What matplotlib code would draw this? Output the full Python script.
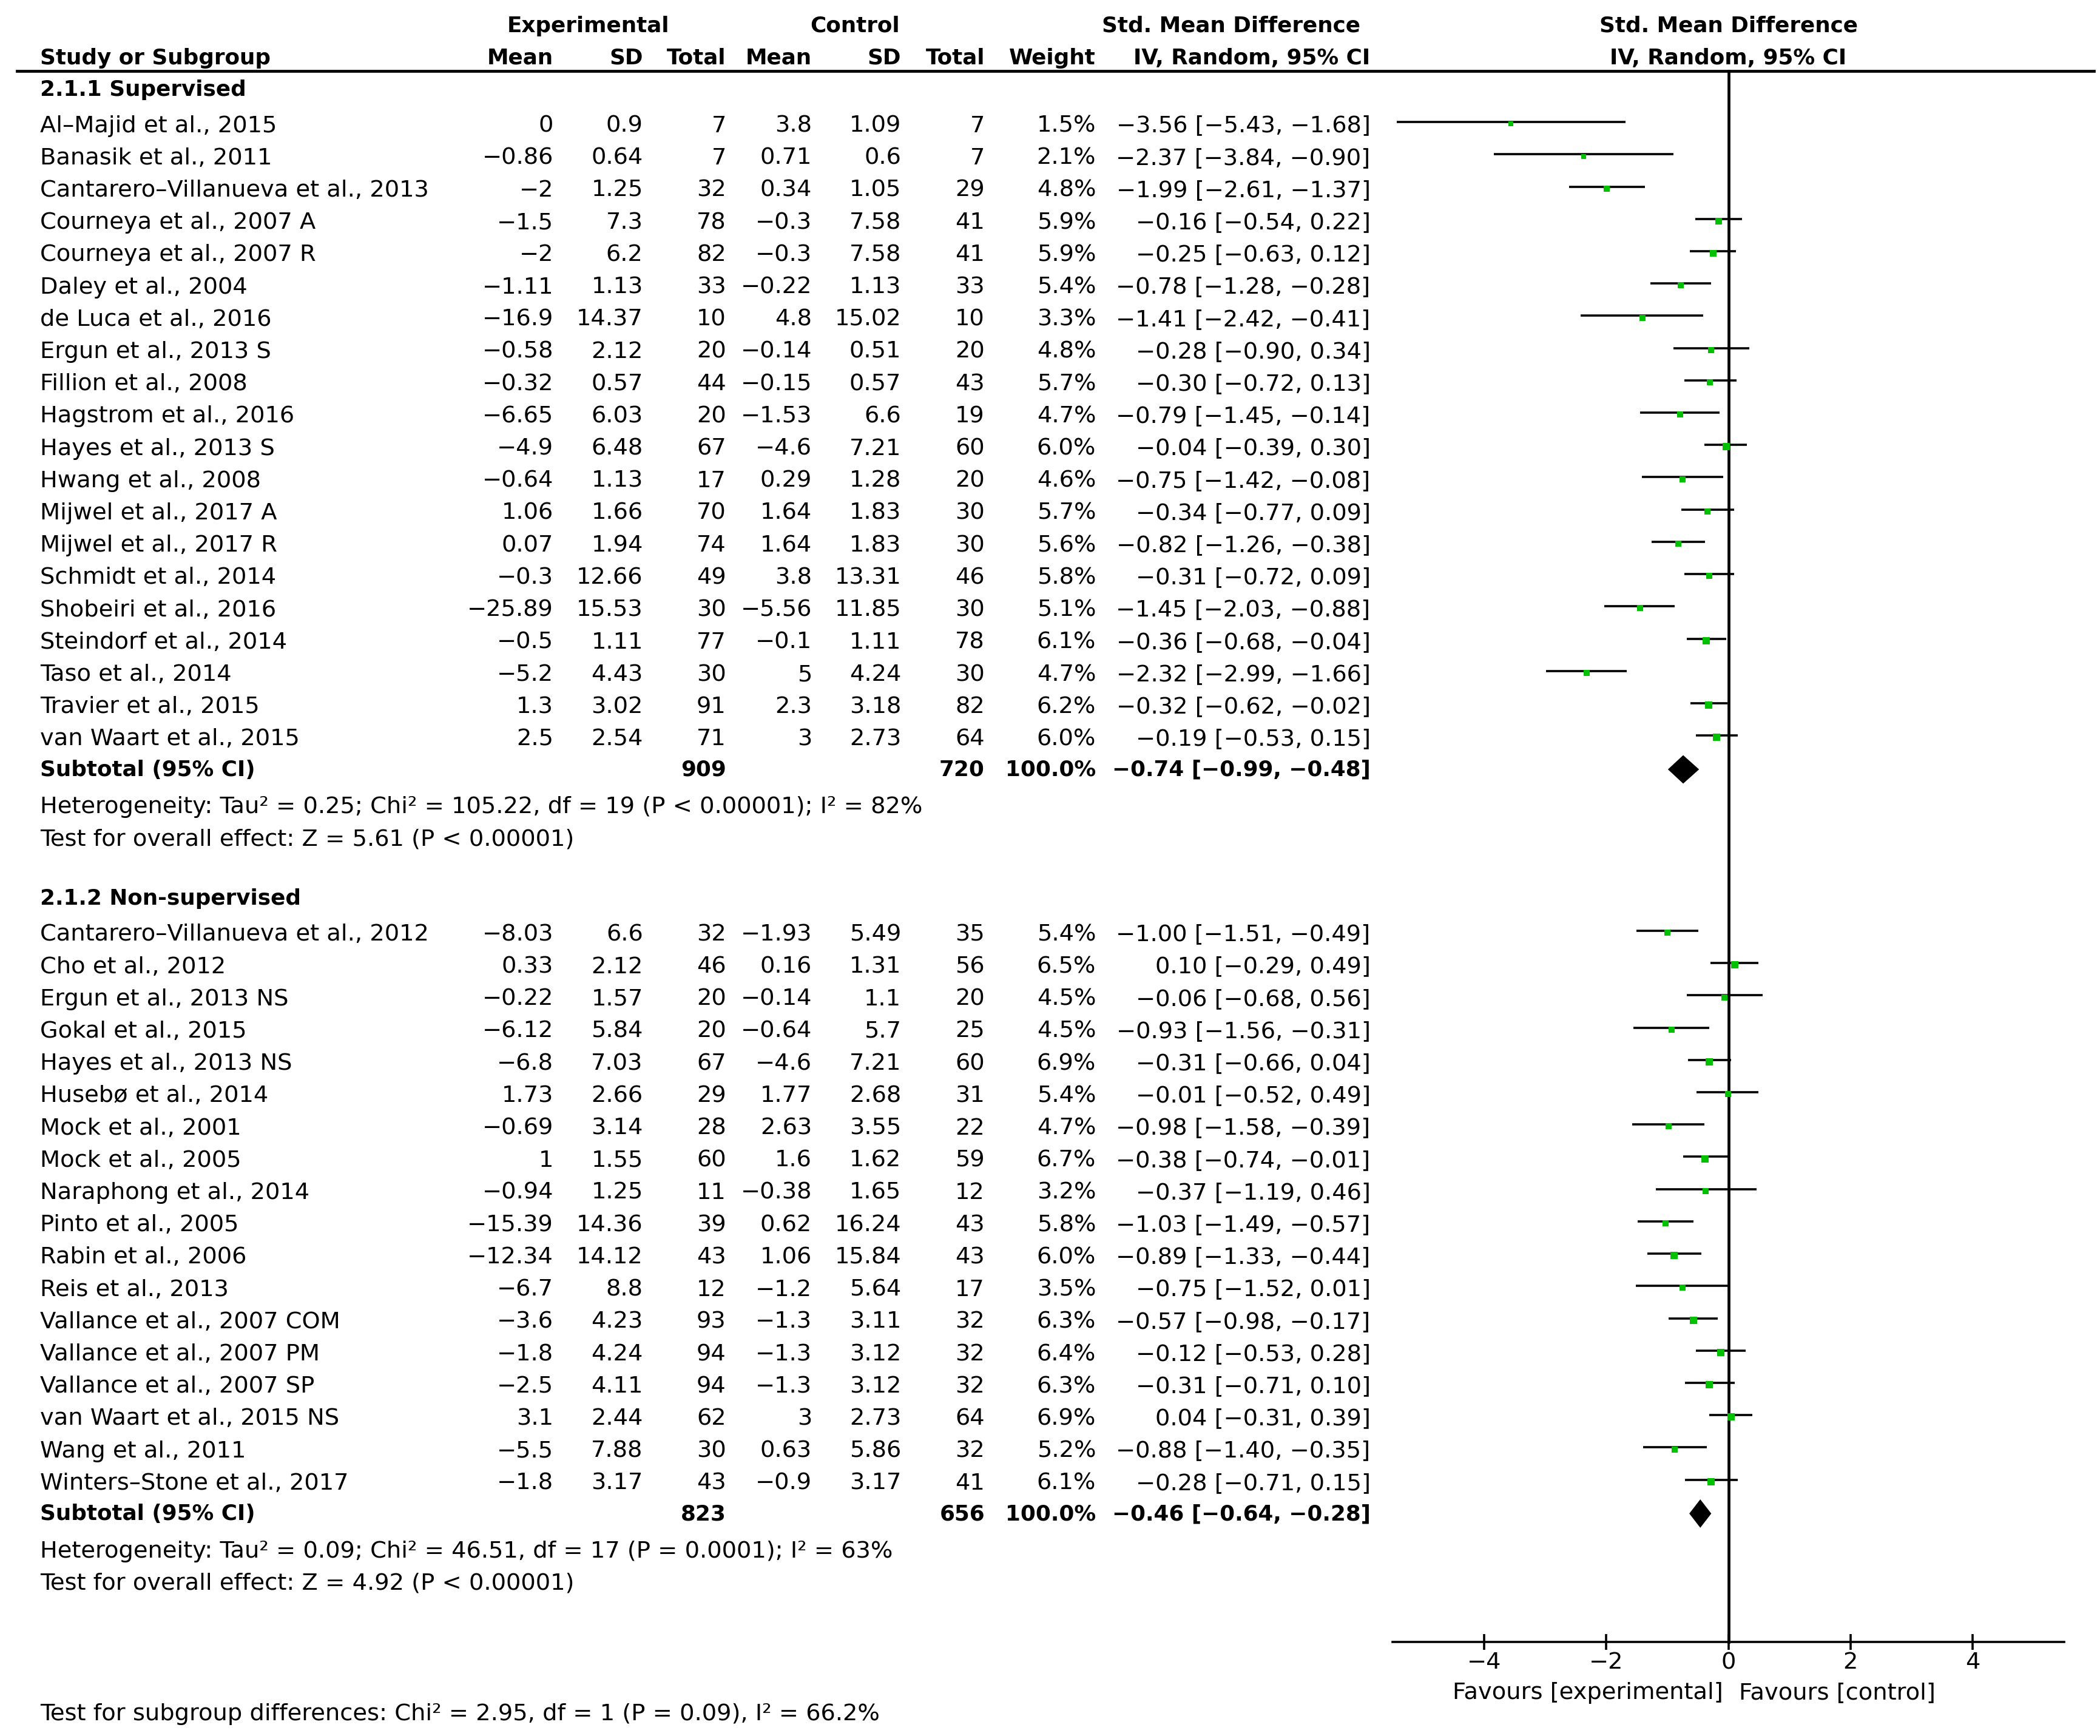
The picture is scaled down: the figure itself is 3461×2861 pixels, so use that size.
import matplotlib
matplotlib.use('Agg')
import matplotlib.pyplot as plt
from matplotlib.transforms import blended_transform_factory

# ---- data ----
names1 = ["Al–Majid et al., 2015", "Banasik et al., 2011", "Cantarero–Villanueva et al., 2013",
          "Courneya et al., 2007 A", "Courneya et al., 2007 R", "Daley et al., 2004", "de Luca et al., 2016",
          "Ergun et al., 2013 S", "Fillion et al., 2008", "Hagstrom et al., 2016", "Hayes et al., 2013 S",
          "Hwang et al., 2008", "Mijwel et al., 2017 A", "Mijwel et al., 2017 R", "Schmidt et al., 2014",
          "Shobeiri et al., 2016", "Steindorf et al., 2014", "Taso et al., 2014", "Travier et al., 2015",
          "van Waart et al., 2015"]
exp_mean1 = [0, -0.86, -2, -1.5, -2, -1.11, -16.9, -0.58, -0.32, -6.65, -4.9, -0.64, 1.06, 0.07, -0.3, -25.89, -0.5, -5.2, 1.3, 2.5]
exp_sd1 = [0.9, 0.64, 1.25, 7.3, 6.2, 1.13, 14.37, 2.12, 0.57, 6.03, 6.48, 1.13, 1.66, 1.94, 12.66, 15.53, 1.11, 4.43, 3.02, 2.54]
exp_n1 = [7, 7, 32, 78, 82, 33, 10, 20, 44, 20, 67, 17, 70, 74, 49, 30, 77, 30, 91, 71]
ctl_mean1 = [3.8, 0.71, 0.34, -0.3, -0.3, -0.22, 4.8, -0.14, -0.15, -1.53, -4.6, 0.29, 1.64, 1.64, 3.8, -5.56, -0.1, 5, 2.3, 3]
ctl_sd1 = [1.09, 0.6, 1.05, 7.58, 7.58, 1.13, 15.02, 0.51, 0.57, 6.6, 7.21, 1.28, 1.83, 1.83, 13.31, 11.85, 1.11, 4.24, 3.18, 2.73]
ctl_n1 = [7, 7, 29, 41, 41, 33, 10, 20, 43, 19, 60, 20, 30, 30, 46, 30, 78, 30, 82, 64]
weight1 = [1.5, 2.1, 4.8, 5.9, 5.9, 5.4, 3.3, 4.8, 5.7, 4.7, 6.0, 4.6, 5.7, 5.6, 5.8, 5.1, 6.1, 4.7, 6.2, 6.0]
smd1 = [-3.56, -2.37, -1.99, -0.16, -0.25, -0.78, -1.41, -0.28, -0.30, -0.79, -0.04, -0.75, -0.34, -0.82, -0.31, -1.45, -0.36, -2.32, -0.32, -0.19]
lo1 = [-5.43, -3.84, -2.61, -0.54, -0.63, -1.28, -2.42, -0.90, -0.72, -1.45, -0.39, -1.42, -0.77, -1.26, -0.72, -2.03, -0.68, -2.99, -0.62, -0.53]
hi1 = [-1.68, -0.90, -1.37, 0.22, 0.12, -0.28, -0.41, 0.34, 0.13, -0.14, 0.30, -0.08, 0.09, -0.38, 0.09, -0.88, -0.04, -1.66, -0.02, 0.15]
total1 = (909, 720)
pooled1 = (-0.74, -0.99, -0.48)
het1 = "Heterogeneity: Tau² = 0.25; Chi² = 105.22, df = 19 (P < 0.00001); I² = 82%"
test1 = "Test for overall effect: Z = 5.61 (P < 0.00001)"

names2 = ["Cantarero–Villanueva et al., 2012", "Cho et al., 2012", "Ergun et al., 2013 NS", "Gokal et al., 2015",
          "Hayes et al., 2013 NS", "Husebø et al., 2014", "Mock et al., 2001", "Mock et al., 2005",
          "Naraphong et al., 2014", "Pinto et al., 2005", "Rabin et al., 2006", "Reis et al., 2013",
          "Vallance et al., 2007 COM", "Vallance et al., 2007 PM", "Vallance et al., 2007 SP",
          "van Waart et al., 2015 NS", "Wang et al., 2011", "Winters–Stone et al., 2017"]
exp_mean2 = [-8.03, 0.33, -0.22, -6.12, -6.8, 1.73, -0.69, 1, -0.94, -15.39, -12.34, -6.7, -3.6, -1.8, -2.5, 3.1, -5.5, -1.8]
exp_sd2 = [6.6, 2.12, 1.57, 5.84, 7.03, 2.66, 3.14, 1.55, 1.25, 14.36, 14.12, 8.8, 4.23, 4.24, 4.11, 2.44, 7.88, 3.17]
exp_n2 = [32, 46, 20, 20, 67, 29, 28, 60, 11, 39, 43, 12, 93, 94, 94, 62, 30, 43]
ctl_mean2 = [-1.93, 0.16, -0.14, -0.64, -4.6, 1.77, 2.63, 1.6, -0.38, 0.62, 1.06, -1.2, -1.3, -1.3, -1.3, 3, 0.63, -0.9]
ctl_sd2 = [5.49, 1.31, 1.1, 5.7, 7.21, 2.68, 3.55, 1.62, 1.65, 16.24, 15.84, 5.64, 3.11, 3.12, 3.12, 2.73, 5.86, 3.17]
ctl_n2 = [35, 56, 20, 25, 60, 31, 22, 59, 12, 43, 43, 17, 32, 32, 32, 64, 32, 41]
weight2 = [5.4, 6.5, 4.5, 4.5, 6.9, 5.4, 4.7, 6.7, 3.2, 5.8, 6.0, 3.5, 6.3, 6.4, 6.3, 6.9, 5.2, 6.1]
smd2 = [-1.00, 0.10, -0.06, -0.93, -0.31, -0.01, -0.98, -0.38, -0.37, -1.03, -0.89, -0.75, -0.57, -0.12, -0.31, 0.04, -0.88, -0.28]
lo2 = [-1.51, -0.29, -0.68, -1.56, -0.66, -0.52, -1.58, -0.74, -1.19, -1.49, -1.33, -1.52, -0.98, -0.53, -0.71, -0.31, -1.40, -0.71]
hi2 = [-0.49, 0.49, 0.56, -0.31, 0.04, 0.49, -0.39, -0.01, 0.46, -0.57, -0.44, 0.01, -0.17, 0.28, 0.10, 0.39, -0.35, 0.15]
total2 = (823, 656)
pooled2 = (-0.46, -0.64, -0.28)
het2 = "Heterogeneity: Tau² = 0.09; Chi² = 46.51, df = 17 (P = 0.0001); I² = 63%"
test2 = "Test for overall effect: Z = 4.92 (P < 0.00001)"

subgroup_test = "Test for subgroup differences: Chi² = 2.95, df = 1 (P = 0.09), I² = 66.2%"
x_ticks = [-4, -2, 0, 2, 4]

# ---- layout ----
FS = 13.8
FS_B = 12.9
GREEN = '#00c000'
LW = 1.3
COLS = [0.2634, 0.3061, 0.3457, 0.3865, 0.4290, 0.4688, 0.5217, 0.6524]  # right edges, figure fraction
NAME_X = 0.0191
Y_TOP, Y_BOT = -3.9, 49.89
RULE_Y = -1.68
AXIS_Y = 46.97

plt.rcParams['font.family'] = 'DejaVu Sans'


def fmt(v):
    return '{:g}'.format(v).replace('-', '−')


def fmt_ci(est, lo, hi):
    return '{:.2f} [{:.2f}, {:.2f}]'.format(est, lo, hi).replace('-', '−')


fig = plt.figure(figsize=(17.31, 14.3099), dpi=200)
ax = fig.add_axes([0.6629, 0.0, 0.3198, 1.0])
ax.set_xlim(-5.5, 5.5)
ax.set_ylim(Y_BOT, Y_TOP)
tr = blended_transform_factory(fig.transFigure, ax.transData)


def label(x, y, s, bold=False, ha='left', **kw):
    ax.text(x, y, s, ha=ha, va='center', fontsize=FS_B if bold else FS,
            fontweight='bold' if bold else 'normal', **kw)


def row_text(y, vals, bold=False):
    for x, v in zip(COLS, vals):
        if v:
            label(x, y, v, bold=bold, ha='right', transform=tr)


def draw_group(start, title, names, em, es, en, cm, cs, cn, w, smd, lo, hi, tot, pooled, het, test):
    label(NAME_X, start - 1.12, title, bold=True, transform=tr)
    for i in range(len(names)):
        y = start + i
        label(NAME_X, y, names[i], transform=tr)
        row_text(y, [fmt(em[i]), fmt(es[i]), str(en[i]), fmt(cm[i]), fmt(cs[i]), str(cn[i]),
                     '{:.1f}%'.format(w[i]), fmt_ci(smd[i], lo[i], hi[i])])
        ax.plot([lo[i], hi[i]], [y - 0.1, y - 0.1], color='black', lw=1.3, solid_capstyle='butt', zorder=3)
        ax.plot(smd[i], y - 0.04, marker='s', color=GREEN, markersize=3.96 * (w[i] / 5.9) ** 0.3,
                markeredgewidth=0, zorder=4)
    ys = start + len(names) - 0.05
    label(NAME_X, ys, 'Subtotal (95% CI)', bold=True, transform=tr)
    row_text(ys, ['', '', str(tot[0]), '', '', str(tot[1]), '100.0%', fmt_ci(*pooled)], bold=True)
    est, plo, phi = pooled
    ax.fill([plo, est, phi, est], [ys, ys - 0.44, ys, ys + 0.44], color='black', lw=0, zorder=4)
    label(NAME_X, ys + 1.15, het, transform=tr)
    label(NAME_X, ys + 2.15, test, transform=tr)


# headers
for x, lab in [(0.2800, 'Experimental'), (0.4069, 'Control'), (0.5861, 'Std. Mean Difference')]:
    label(x, -3.1, lab, bold=True, ha='center', transform=tr)
label(NAME_X, -2.1, 'Study or Subgroup', bold=True, transform=tr)
row_text(-2.1, ['Mean', 'SD', 'Total', 'Mean', 'SD', 'Total', 'Weight', 'IV, Random, 95% CI'], bold=True)
label(0, -3.1, 'Std. Mean Difference', bold=True, ha='center')
label(0, -2.1, 'IV, Random, 95% CI', bold=True, ha='center')
ax.plot([0.008, 0.9968], [RULE_Y, RULE_Y], transform=tr, color='black', lw=1.7, clip_on=False)

draw_group(0, '2.1.1 Supervised', names1, exp_mean1, exp_sd1, exp_n1, ctl_mean1, ctl_sd1, ctl_n1,
           weight1, smd1, lo1, hi1, total1, pooled1, het1, test1)
draw_group(25.05, '2.1.2 Non-supervised', names2, exp_mean2, exp_sd2, exp_n2, ctl_mean2, ctl_sd2, ctl_n2,
           weight2, smd2, lo2, hi2, total2, pooled2, het2, test2)

label(NAME_X, 49.2, subgroup_test, transform=tr)

# null line and axis
ax.plot([0, 0], [RULE_Y, AXIS_Y], color='black', lw=1.7, zorder=2)
for s in ['top', 'left', 'right']:
    ax.spines[s].set_visible(False)
ax.spines['bottom'].set_position(('data', AXIS_Y))
ax.spines['bottom'].set_linewidth(LW)
ax.set_xticks(x_ticks)
ax.set_yticks([])
ax.tick_params(axis='x', direction='inout', length=9.4, width=LW, labelsize=FS, pad=1)
ax.patch.set_visible(False)
label(-0.09, 48.54, 'Favours [experimental]', ha='right')
label(0.17, 48.54, 'Favours [control]')

fig.savefig('out.png', dpi=200, facecolor='white')
